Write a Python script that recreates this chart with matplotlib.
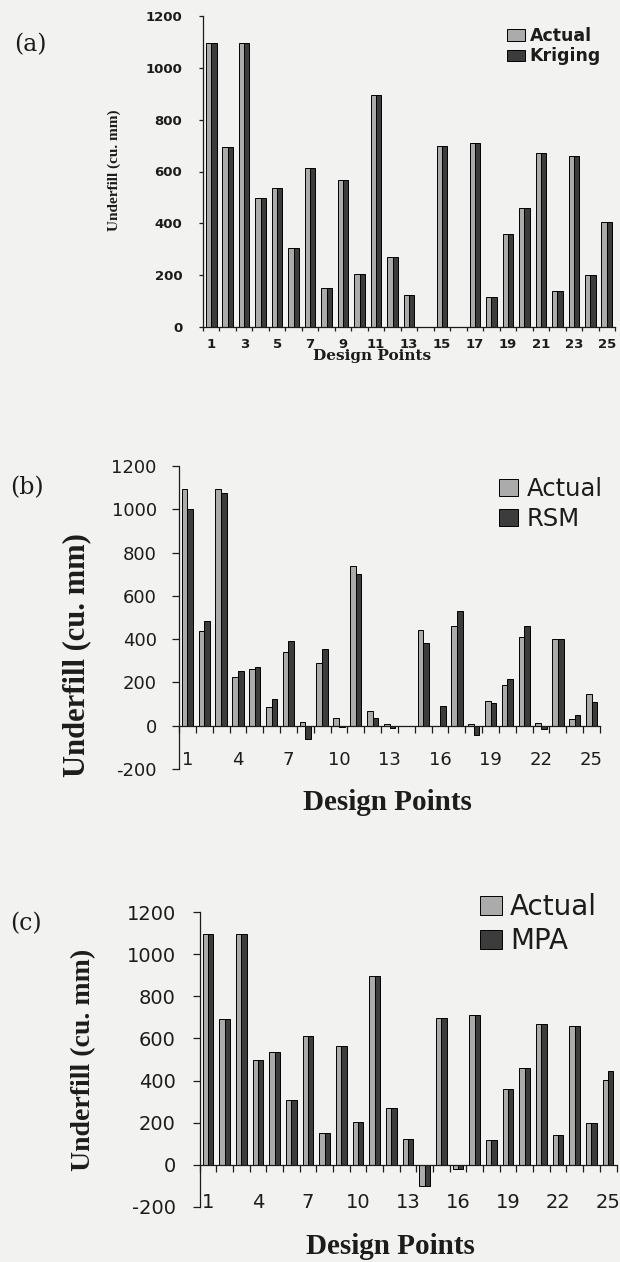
import matplotlib
matplotlib.use("Agg")
import matplotlib.pyplot as plt
import numpy as np
from matplotlib.font_manager import FontProperties

plt.rcParams["axes.unicode_minus"] = False

# Design points (categories)
design_points = [1, 2, 3, 4, 5, 6, 7, 8, 9, 10, 11, 12, 13,
                 14, 15, 16, 17, 18, 19, 20, 21, 22, 23, 24, 25]

# (a) Actual vs Kriging
actual_a = [1095, 693, 1095, 498, 536, 306, 612, 151, 566, 205, 896, 272, 122,
            -98, 697, -22, 709, 117, 358, 460, 670, 140, 660, 200, 404]
kriging = [1095, 693, 1095, 498, 536, 306, 612, 151, 566, 205, 896, 272, 122,
           -98, 697, -22, 709, 117, 358, 460, 670, 140, 660, 200, 404]

# (b) Actual vs RSM
actual_b = [1092, 438, 1095, 225, 262, 85, 340, 18, 292, 35, 737, 66, 9,
            0, 443, 0, 462, 9, 114, 189, 411, 12, 402, 31, 145]
rsm = [1003, 486, 1077, 254, 272, 125, 391, -60, 354, -8, 700, 37, -9,
       0, 382, 91, 532, -45, 103, 218, 462, -17, 402, 49, 108]

# (c) Actual vs MPA
actual_c = [1095, 693, 1095, 498, 536, 306, 612, 151, 566, 205, 896, 272, 122,
            -98, 697, -22, 709, 117, 358, 460, 670, 140, 660, 200, 404]
mpa = [1095, 693, 1095, 498, 536, 306, 612, 151, 566, 205, 896, 272, 122,
       -98, 697, -22, 709, 117, 358, 460, 670, 140, 660, 200, 445]

ticks_a = [1, 3, 5, 7, 9, 11, 13, 15, 17, 19, 21, 23, 25]
ticks_bc = [1, 4, 7, 10, 13, 16, 19, 22, 25]
yticks_a = [0, 200, 400, 600, 800, 1000, 1200]
yticks_bc = [-200, 0, 200, 400, 600, 800, 1000, 1200]

LIGHT = "#ababab"
DARK = "#3c3c3c"
INK = "#1c1c1c"
PAPER = "#f2f2f0"

W, H = 620, 1262
fig = plt.figure(figsize=(W / 100, H / 100), dpi=100, facecolor=PAPER)


def box(left, right, top, bottom):
    return [left / W, 1 - bottom / H, (right - left) / W, (bottom - top) / H]


def fx(px):
    return px / W


def fy(py):
    return 1 - py / H


def panel(rect, actual, model, model_name, bw, ylim, yticks, xticks,
          tick_font, tick_size, ytick_pad, xtick_pad, tick_len, zero_spine):
    ax = fig.add_axes(rect)
    ax.set_facecolor("none")
    x = np.array(design_points, dtype=float)
    ax.bar(x - bw / 2, actual, bw, color=LIGHT, edgecolor="black", linewidth=0.7,
           label="Actual", zorder=2)
    ax.bar(x + bw / 2, model, bw, color=DARK, edgecolor="black", linewidth=0.7,
           label=model_name, zorder=2)
    ax.set_xlim(0.5, 25.5)
    ax.set_ylim(*ylim)
    for s in ("top", "right"):
        ax.spines[s].set_visible(False)
    for s in ("left", "bottom"):
        ax.spines[s].set_color(INK)
        ax.spines[s].set_linewidth(0.9)
    if zero_spine:
        ax.spines["bottom"].set_position(("data", 0))
    ax.set_yticks(yticks)
    ax.set_xticks(xticks)
    ax.set_xticks(np.arange(0.5, 26, 1.0), minor=True)
    ax.tick_params(axis="y", direction="out", length=tick_len, width=0.9,
                   color=INK, pad=ytick_pad, labelcolor=INK)
    ax.tick_params(axis="x", which="major", length=0, pad=xtick_pad,
                   labelcolor=INK)
    ax.tick_params(axis="x", which="minor", direction="out", length=tick_len,
                   width=0.9, color=INK)
    for lab in ax.get_xticklabels() + ax.get_yticklabels():
        lab.set_fontproperties(tick_font)
        lab.set_fontsize(tick_size)
    return ax


fp_a = FontProperties(family="DejaVu Sans", weight="bold")
fp_bc = FontProperties(family="DejaVu Sans")

# ---------------- (a) ----------------
ax_a = panel(box(203, 615, 16, 327), actual_a, kriging, "Kriging", 0.32,
             (0, 1200), yticks_a, ticks_a, fp_a, 9.5, 12, 8, 3, False)
ax_a.set_ylabel("Underfill (cu. mm)", family="Liberation Serif", weight="bold",
                fontsize=11, color=INK, va="center")
ax_a.yaxis.set_label_coords(fx(114), fy(170), transform=fig.transFigure)
ax_a.set_xlabel("Design Points", family="DejaVu Serif", weight="bold",
                fontsize=11, color=INK, va="center")
ax_a.xaxis.set_label_coords(fx(372), fy(356), transform=fig.transFigure)
leg_a = ax_a.legend(loc="upper left", bbox_to_anchor=(fx(507), fy(27)),
                    bbox_transform=fig.transFigure, frameon=False, borderpad=0,
                    borderaxespad=0, handlelength=1.05, handleheight=0.64,
                    handletextpad=0.25, labelspacing=0.14,
                    prop={"family": "DejaVu Sans", "weight": "bold", "size": 12.5})

# ---------------- (b) ----------------
ax_b = panel(box(179, 600, 466, 769), actual_b, rsm, "RSM", 0.335,
             (-200, 1200), yticks_bc, ticks_bc, fp_bc, 13, 11, 18, 5, True)
ax_b.set_ylabel("Underfill (cu. mm)", family="Liberation Serif", weight="bold",
                fontsize=22, color=INK, va="center")
ax_b.yaxis.set_label_coords(fx(77), fy(655), transform=fig.transFigure)
ax_b.set_xlabel("Design Points", family="Liberation Serif", weight="bold",
                fontsize=21, color=INK, va="center")
ax_b.xaxis.set_label_coords(fx(387), fy(802), transform=fig.transFigure)
leg_b = ax_b.legend(loc="upper left", bbox_to_anchor=(fx(499), fy(477)),
                    bbox_transform=fig.transFigure, frameon=False, borderpad=0,
                    borderaxespad=0, handlelength=0.78, handleheight=0.7,
                    handletextpad=0.37, labelspacing=0.26,
                    prop={"family": "DejaVu Sans", "size": 17.5})

# ---------------- (c) ----------------
ax_c = panel(box(199.5, 616.5, 912, 1207), actual_c, mpa, "MPA", 0.32,
             (-200, 1200), yticks_bc, ticks_bc, fp_bc, 14, 12, 20, 5, True)
ax_c.set_ylabel("Underfill (cu. mm)", family="Liberation Serif", weight="bold",
                fontsize=20, color=INK, va="center")
ax_c.yaxis.set_label_coords(fx(84), fy(1060), transform=fig.transFigure)
ax_c.set_xlabel("Design Points", family="Liberation Serif", weight="bold",
                fontsize=21, color=INK, va="center")
ax_c.xaxis.set_label_coords(fx(390), fy(1246), transform=fig.transFigure)
leg_c = ax_c.legend(loc="upper left", bbox_to_anchor=(fx(480), fy(893)),
                    bbox_transform=fig.transFigure, frameon=False, borderpad=0,
                    borderaxespad=0, handlelength=0.79, handleheight=0.68,
                    handletextpad=0.29, labelspacing=0.21,
                    prop={"family": "DejaVu Sans", "size": 20})

for leg in (leg_a, leg_b, leg_c):
    for t in leg.get_texts():
        t.set_color(INK)

# Panel letters
for letter, (px, py) in {"(a)": (30, 45), "(b)": (27, 488), "(c)": (26, 924)}.items():
    fig.text(fx(px), fy(py), letter, family="DejaVu Serif", fontsize=17,
             color=INK, ha="center", va="center")

fig.savefig("out.png", dpi=100, facecolor=PAPER)
